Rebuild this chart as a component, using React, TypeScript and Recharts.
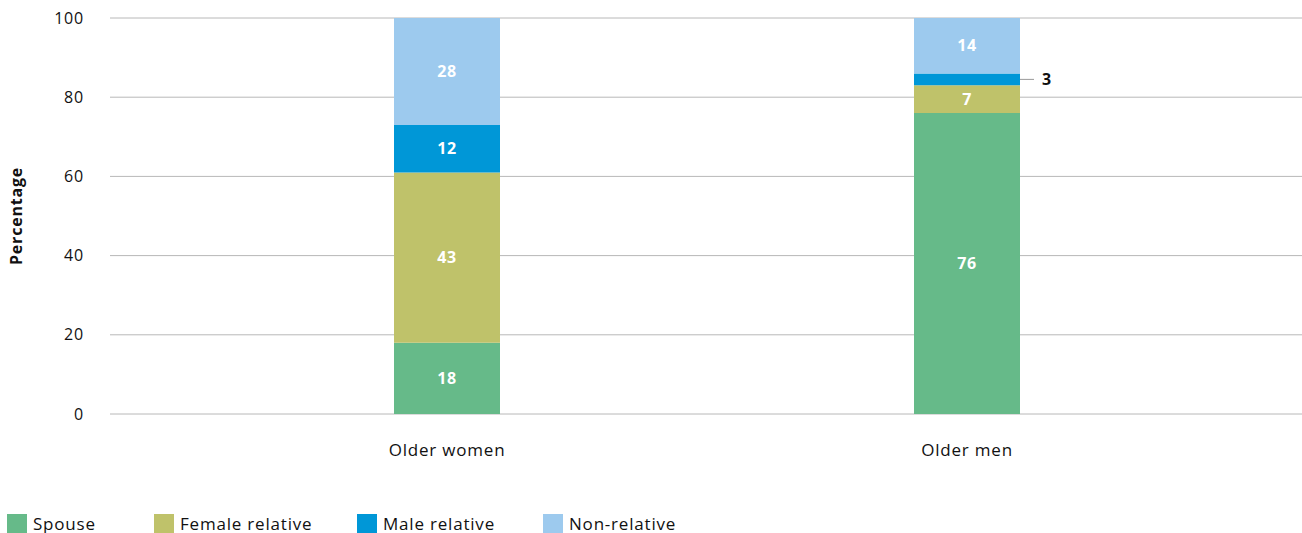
import React from 'react';
import { BarChart, Bar, XAxis, YAxis, CartesianGrid, LabelList, Label } from 'recharts';

const categories = ['Older women', 'Older men'];
const spouse = [18, 76];
const femaleRelative = [43, 7];
const maleRelative = [12, 3];
const nonRelative = [28, 14];
const yTicks = [0, 20, 40, 60, 80, 100];

const SERIES = [
  { key: 'spouse', name: 'Spouse', color: '#66BA89' },
  { key: 'female', name: 'Female relative', color: '#BFC26A' },
  { key: 'male', name: 'Male relative', color: '#0097D7' },
  { key: 'non', name: 'Non-relative', color: '#9DCAEE' },
];

const FONT = '"Open Sans", Lato, sans-serif';

const data = categories.map((c, i) => ({
  category: c,
  spouse: spouse[i],
  female: femaleRelative[i],
  male: maleRelative[i],
  non: nonRelative[i],
}));

// small segments get their value outside the bar with a short leader line
const renderLabel = (props: any) => {
  const { x, y, width, height, value } = props;
  if (value == null) return null;
  const cy = y + height / 2;
  if (height < 20) {
    const x0 = x + width;
    return (
      <g>
        <line x1={x0} y1={cy} x2={x0 + 14} y2={cy} stroke="#999" strokeWidth={1} />
        <text x={x0 + 22} y={cy} dy="0.35em" fontSize={16} fontWeight="bold" fill="#111" fontFamily={FONT}>
          {value}
        </text>
      </g>
    );
  }
  return (
    <text
      x={x + width / 2}
      y={cy}
      dy="0.35em"
      textAnchor="middle"
      fontSize={16}
      fontWeight="bold"
      letterSpacing={0.5}
      fill="#fff"
      fontFamily={FONT}
    >
      {value}
    </text>
  );
};

const legendLeft = [7, 154, 357, 543];

export default function App() {
  return (
    <div style={{ position: 'absolute', left: 0, top: 0, width: 1302, height: 533, background: '#fff' }}>
      <BarChart width={1302} height={533} data={data} margin={{ top: 18, right: 0, left: 0, bottom: 69 }}>
        <CartesianGrid vertical={false} stroke="#b8b8b8" />
        <XAxis
          dataKey="category"
          axisLine={false}
          tickLine={false}
          tickSize={0}
          tickMargin={30}
          height={50}
          padding={{ left: 77, right: 75 }}
          tick={{ fontSize: 17, fill: '#111', fontFamily: FONT, letterSpacing: 0.8 }}
        />
        <YAxis
          domain={[0, 100]}
          ticks={yTicks}
          allowDataOverflow
          axisLine={false}
          tickLine={false}
          tickSize={0}
          tickMargin={26}
          width={110}
          tick={{ fontSize: 16, fill: '#111', fontFamily: FONT, letterSpacing: 0.8 }}
        >
          <Label
            content={() => (
              <text
                transform="translate(16,216) rotate(-90)"
                textAnchor="middle"
                dy="0.35em"
                fontSize={16}
                fontWeight="bold"
                letterSpacing={0.8}
                fill="#111"
                fontFamily={FONT}
              >
                Percentage
              </text>
            )}
          />
        </YAxis>
        {SERIES.map((s) => (
          <Bar key={s.key} dataKey={s.key} name={s.name} stackId="a" fill={s.color} barSize={106} isAnimationActive={false}>
            <LabelList dataKey={s.key} content={renderLabel} />
          </Bar>
        ))}
      </BarChart>
      {SERIES.map((s, i) => (
        <div
          key={s.key}
          style={{
            position: 'absolute',
            left: legendLeft[i],
            top: 512,
            display: 'flex',
            alignItems: 'center',
            fontFamily: FONT,
            fontSize: 17,
            letterSpacing: 0.8,
            color: '#111',
            whiteSpace: 'nowrap',
          }}
        >
          <span style={{ display: 'inline-block', width: 20, height: 20, background: s.color, marginRight: 6 }} />
          <span>{s.name}</span>
        </div>
      ))}
    </div>
  );
}
